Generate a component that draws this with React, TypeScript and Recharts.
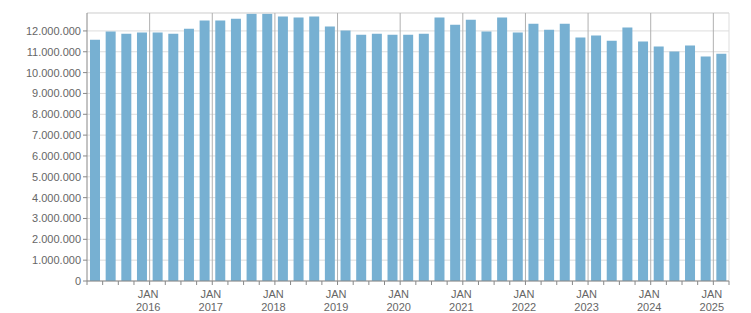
import React from 'react';
import { BarChart, Bar, XAxis, YAxis, CartesianGrid, ReferenceLine } from 'recharts';

const years = [2015, 2016, 2017, 2018, 2019, 2020, 2021, 2022, 2023, 2024, 2025];
const quarterNames = ['Q1', 'Q2', 'Q3', 'Q4'];
const values = [
  11580000, 11970000, 11870000, 11920000,
  11920000, 11870000, 12110000, 12500000,
  12500000, 12590000, 12830000, 12830000,
  12690000, 12640000, 12690000, 12210000,
  12020000, 11820000, 11870000, 11820000,
  11820000, 11870000, 12640000, 12300000,
  12540000, 11970000, 12640000, 11920000,
  12350000, 12060000, 12350000, 11680000,
  11780000, 11530000, 12160000, 11490000,
  11250000, 11010000, 11300000, 10770000,
  10910000,
];
const yTicks = [0, 1000000, 2000000, 3000000, 4000000, 5000000, 6000000, 7000000, 8000000, 9000000, 10000000, 11000000, 12000000];
const monthLabel = 'JAN';

const categories: string[] = [];
years.forEach((y) => quarterNames.forEach((q) => categories.push(`${y} ${q}`)));

const data = values.map((v, i) => ({ x: i + 0.5, label: categories[i], value: v }));
const nSlots = values.length;
const xTicks = Array.from({ length: nSlots + 1 }, (_, i) => i);
const yearLines = xTicks.filter((t) => t > 0 && t % 4 === 0);

const fmt = (n: number) => String(n).replace(/\B(?=(\d{3})+(?!\d))/g, '.');

const FONT = '"Liberation Sans", Arial, sans-serif';
const TEXT = '#666666';

const XTick = (props: any) => {
  const { x, y, payload } = props;
  const v = payload.value;
  if (v <= 0 || v % 4 !== 0) return null;
  const year = years[v / 4];
  const cx = x - 1.5;
  return (
    <text x={cx} y={y} textAnchor="middle" fontSize={11} fontFamily={FONT} fill={TEXT}>
      <tspan x={cx} dy={11}>{monthLabel}</tspan>
      <tspan x={cx} dy={12.7}>{year}</tspan>
    </text>
  );
};

export default function App() {
  return (
    <div style={{ width: 751, height: 313 }}>
      <style>{'body{margin:0;overflow:hidden}'}</style>
      <BarChart
        width={751}
        height={313}
        data={data}
        margin={{ top: 13, right: 22, bottom: 0, left: 0 }}
      >
        <CartesianGrid vertical={false} stroke="#dddddd" />
        <XAxis
          dataKey="x"
          type="number"
          domain={[0, nSlots]}
          ticks={xTicks}
          interval={0}
          tick={<XTick />}
          tickSize={4}
          tickMargin={2}
          height={32}
          stroke="#888888"
          allowDataOverflow
        />
        <YAxis
          domain={[0, 12860000]}
          ticks={yTicks}
          tickFormatter={fmt}
          width={87}
          tickSize={4}
          tickMargin={2}
          interval={0}
          stroke="#888888"
          tick={{ fontSize: 11, fontFamily: FONT, fill: TEXT }}
          allowDataOverflow
        />
        <ReferenceLine y={12860000} stroke="#dddddd" />
        <ReferenceLine x={nSlots} stroke="#dddddd" />
        {yearLines.map((t) => (
          <ReferenceLine key={t} x={t} stroke="#b0b0b0" strokeWidth={1} />
        ))}
        <Bar dataKey="value" fill="#77b0d2" barSize={10} isAnimationActive={false} />
      </BarChart>
    </div>
  );
}
